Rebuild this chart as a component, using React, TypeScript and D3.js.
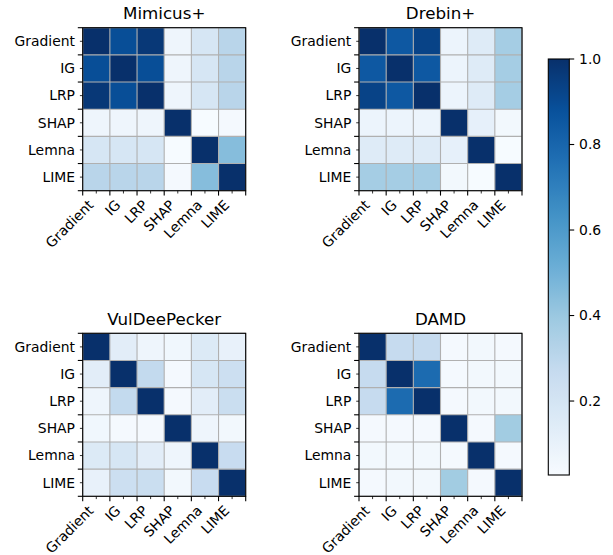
import React from "react";
import * as d3 from "d3";

const methods = ["Gradient", "IG", "LRP", "SHAP", "Lemna", "LIME"];
const titles = ["Mimicus+", "Drebin+", "VulDeePecker", "DAMD"];

const mimicus = [
  [1, 0.89, 0.97, 0.07, 0.19, 0.31],
  [0.89, 1, 0.89, 0.07, 0.19, 0.31],
  [0.97, 0.89, 1, 0.07, 0.19, 0.31],
  [0.07, 0.07, 0.07, 1, 0.03, 0.04],
  [0.19, 0.19, 0.19, 0.03, 1, 0.45],
  [0.31, 0.31, 0.31, 0.04, 0.45, 1],
];
const drebin = [
  [1, 0.85, 0.93, 0.08, 0.15, 0.37],
  [0.85, 1, 0.85, 0.08, 0.15, 0.37],
  [0.93, 0.85, 1, 0.08, 0.15, 0.37],
  [0.08, 0.08, 0.08, 1, 0.11, 0.05],
  [0.15, 0.15, 0.15, 0.11, 1, 0.03],
  [0.37, 0.37, 0.37, 0.05, 0.03, 1],
];
const vuldeepecker = [
  [1, 0.13, 0.07, 0.06, 0.16, 0.1],
  [0.13, 1, 0.28, 0.04, 0.19, 0.24],
  [0.07, 0.28, 1, 0.04, 0.13, 0.25],
  [0.06, 0.04, 0.04, 1, 0.07, 0.05],
  [0.16, 0.19, 0.13, 0.07, 1, 0.26],
  [0.1, 0.24, 0.25, 0.05, 0.26, 1],
];
const damd = [
  [1, 0.27, 0.27, 0.04, 0.05, 0.04],
  [0.27, 1, 0.78, 0.04, 0.05, 0.05],
  [0.27, 0.78, 1, 0.04, 0.05, 0.05],
  [0.04, 0.04, 0.04, 1, 0.04, 0.38],
  [0.05, 0.05, 0.05, 0.04, 1, 0.04],
  [0.04, 0.05, 0.05, 0.38, 0.04, 1],
];
const matrices = [mimicus, drebin, vuldeepecker, damd];
const colorbarTicks = [0.2, 0.4, 0.6, 0.8, 1.0];
const vmin = 0.027;
const vmax = 1.0;

const bluesStops = ["#f7fbff", "#deebf7", "#c6dbef", "#9ecae1", "#6baed6", "#4292c6", "#2171b5", "#08519c", "#08306b"];

const FONT = "DejaVu Sans, sans-serif";

export default function App() {
  const W = 613, H = 555;
  const size = 163;
  const panelPos = [
    { x: 82.7, y: 27.7 },
    { x: 359, y: 27.7 },
    { x: 82.7, y: 333.3 },
    { x: 359, y: 333.3 },
  ];
  const tNorm = d3.scaleLinear().domain([vmin, vmax]).range([0, 1]).clamp(true);
  const cmap = d3
    .scaleLinear<string>()
    .domain(bluesStops.map((_, i) => i / (bluesStops.length - 1)))
    .range(bluesStops)
    .interpolate(d3.interpolateRgb);
  const color = (v: number) => cmap(tNorm(v));

  const cb = { x: 548.3, y: 59, w: 21, h: 416 };
  const cbY = d3.scaleLinear().domain([vmin, vmax]).range([cb.y + cb.h, cb.y]);
  const gradStops = d3.range(0, 1.0001, 0.02);

  return (
    <svg width={W} height={H} style={{ position: "absolute", left: 0, top: 0, background: "#fff" }}>
      <defs>
        <linearGradient id="cbgrad" x1="0" y1="1" x2="0" y2="0">
          {gradStops.map((t, i) => (
            <stop key={i} offset={t} stopColor={cmap(t)} />
          ))}
        </linearGradient>
      </defs>
      {matrices.map((m, pi) => {
        const p = panelPos[pi];
        const xs = d3.scaleBand<string>().domain(methods).range([p.x, p.x + size]);
        const ys = d3.scaleBand<string>().domain(methods).range([p.y, p.y + size]);
        const bw = xs.bandwidth();
        const bounds = d3.range(0, methods.length + 1).map((i) => p.x + i * bw);
        const boundsY = d3.range(0, methods.length + 1).map((i) => p.y + i * bw);
        return (
          <g key={pi}>
            {m.map((row, ri) =>
              row.map((v, ci) => (
                <rect
                  key={ri + "-" + ci}
                  x={xs(methods[ci])}
                  y={ys(methods[ri])}
                  width={bw + 0.3}
                  height={bw + 0.3}
                  fill={color(v)}
                />
              ))
            )}
            {bounds.map((bx, i) => (
              <line key={"gx" + i} x1={bx} x2={bx} y1={p.y} y2={p.y + size} stroke="#b0b0b0" strokeWidth={1.1} />
            ))}
            {boundsY.map((by, i) => (
              <line key={"gy" + i} y1={by} y2={by} x1={p.x} x2={p.x + size} stroke="#b0b0b0" strokeWidth={1.1} />
            ))}
            <rect x={p.x} y={p.y} width={size} height={size} fill="none" stroke="#000" strokeWidth={1.1} />
            {bounds.map((bx, i) => (
              <line key={"mtx" + i} x1={bx} x2={bx} y1={p.y + size} y2={p.y + size + 4.9} stroke="#000" strokeWidth={1.1} />
            ))}
            {boundsY.map((by, i) => (
              <line key={"mty" + i} y1={by} y2={by} x1={p.x} x2={p.x - 4.9} stroke="#000" strokeWidth={1.1} />
            ))}
            {methods.map((mth) => {
              const cx = (xs(mth) as number) + bw / 2;
              const cy = (ys(mth) as number) + bw / 2;
              const top = p.y + size + 2.8 + 4.9;
              return (
                <g key={"lab" + mth}>
                  <line x1={cx} x2={cx} y1={p.y + size} y2={p.y + size + 2.8} stroke="#000" strokeWidth={0.8} />
                  <line y1={cy} y2={cy} x1={p.x} x2={p.x - 2.8} stroke="#000" strokeWidth={0.8} />
                  <text
                    x={p.x - 2.8 - 4.9}
                    y={cy}
                    dy="0.35em"
                    textAnchor="end"
                    fontFamily={FONT}
                    fontSize={13.9}
                    fill="#000"
                  >
                    {mth}
                  </text>
                  <text
                    transform={`translate(${cx - 2.0},${top + 7.6}) rotate(-45)`}
                    textAnchor="end"
                    fontFamily={FONT}
                    fontSize={13.9}
                    fill="#000"
                  >
                    {mth}
                  </text>
                </g>
              );
            })}
            <text
              x={p.x + size / 2}
              y={p.y - 8.3}
              textAnchor="middle"
              fontFamily={FONT}
              fontSize={16.7}
              fill="#000"
            >
              {titles[pi]}
            </text>
          </g>
        );
      })}
      <rect x={cb.x} y={cb.y} width={cb.w} height={cb.h} fill="url(#cbgrad)" />
      <rect x={cb.x} y={cb.y} width={cb.w} height={cb.h} fill="none" stroke="#000" strokeWidth={1.1} />
      {colorbarTicks.map((t) => (
        <g key={"cbt" + t}>
          <line x1={cb.x + cb.w} x2={cb.x + cb.w + 4.9} y1={cbY(t)} y2={cbY(t)} stroke="#000" strokeWidth={1.1} />
          <text
            x={cb.x + cb.w + 4.9 + 4.9}
            y={cbY(t)}
            dy="0.35em"
            fontFamily={FONT}
            fontSize={13.9}
            fill="#000"
          >
            {t.toFixed(1)}
          </text>
        </g>
      ))}
    </svg>
  );
}
